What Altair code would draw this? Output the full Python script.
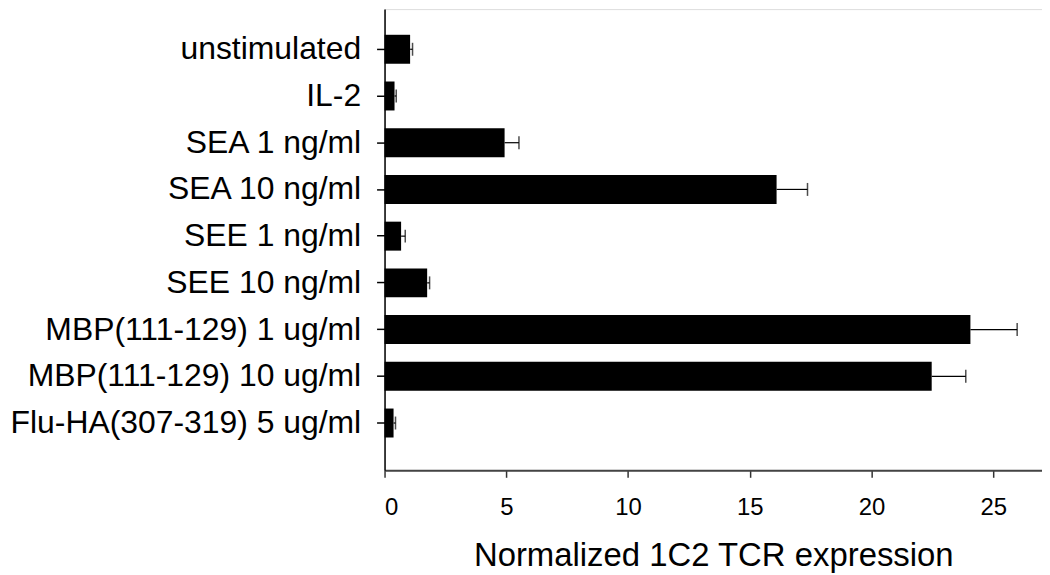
import altair as alt
import pandas as pd

categories = [
    "unstimulated",
    "IL-2",
    "SEA 1 ng/ml",
    "SEA 10 ng/ml",
    "SEE 1 ng/ml",
    "SEE 10 ng/ml",
    "MBP(111-129) 1 ug/ml",
    "MBP(111-129) 10 ug/ml",
    "Flu-HA(307-319) 5 ug/ml",
]
values = [1.05, 0.41, 4.93, 16.1, 0.68, 1.75, 24.06, 22.47, 0.37]
errors = [0.10, 0.07, 0.59, 1.27, 0.17, 0.10, 1.92, 1.40, 0.08]
x_ticks = [0, 5, 10, 15, 20, 25]

df = pd.DataFrame({"cat": categories, "val": values, "err": errors})
df["hi"] = df["val"] + df["err"]

FONT = "Liberation Sans"

y_enc = alt.Y(
    "cat:N",
    sort=categories,
    title=None,
    scale=alt.Scale(paddingInner=0.38, paddingOuter=0.626, align=0.439),
    axis=alt.Axis(
        labelFont=FONT, labelFontSize=32, labelColor="black", labelLimit=0,
        tickSize=8, tickColor="black", tickWidth=1.5,
        labelPadding=16, domainColor="black", domainWidth=1.5,
    ),
)
x_scale = alt.Scale(domain=[0, 27], nice=False, zero=True)
x_axis = alt.Axis(
    values=x_ticks, grid=False, labelFont=FONT, labelFontSize=24,
    labelColor="black", tickSize=7, tickColor="#333", tickWidth=1.5,
    labelPadding=18, domainColor="#444", domainWidth=2,
    title="Normalized 1C2 TCR expression", titleFont=FONT,
    titleFontSize=33, titleFontWeight="normal", titleColor="black",
    titlePadding=21,
)

base = alt.Chart(df)

bars = base.mark_bar(color="black").encode(
    x=alt.X("val:Q", scale=x_scale, axis=x_axis),
    y=y_enc,
)
err_line = base.mark_rule(color="black", strokeWidth=1.2).encode(
    x="val:Q", x2="hi:Q", y=alt.Y("cat:N", sort=categories),
)
err_cap = base.mark_tick(color="black", thickness=1.5, size=13, orient="vertical").encode(
    x="hi:Q", y=alt.Y("cat:N", sort=categories),
)

chart = (
    alt.layer(bars, err_line, err_cap)
    .properties(
        width=660, height=463,
        autosize=alt.AutoSizeParams(type="none"),
        padding={"left": 378, "top": 0, "right": 0, "bottom": 110},
    )
    .configure_view(stroke="#444", strokeWidth=2)
    .configure(background="white")
)

chart.save("out.html", embed_options={"renderer": "svg", "actions": False})
